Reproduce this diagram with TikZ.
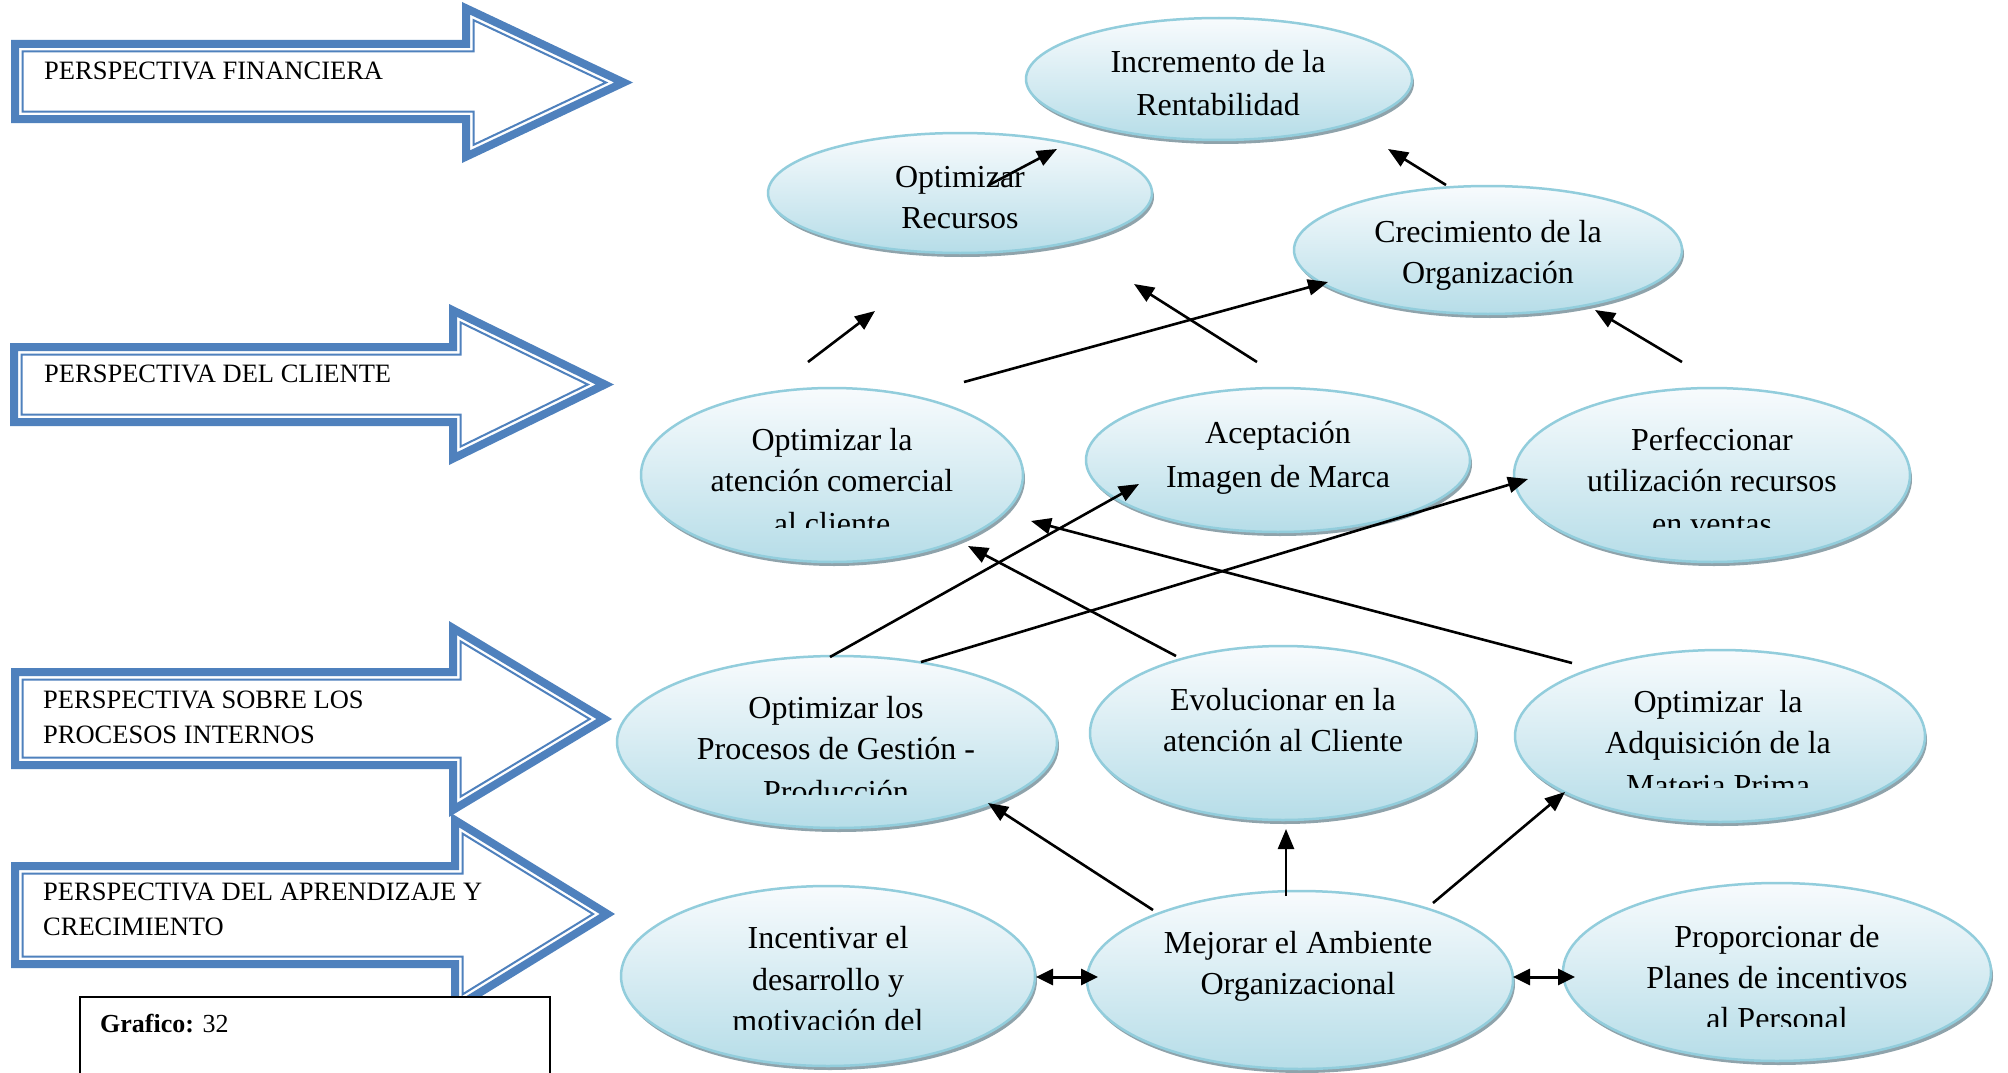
\documentclass[tikz,border=0pt]{standalone}
\usepackage{fontspec}
\setmainfont{Liberation Serif}
\usetikzlibrary{shapes.geometric,shadows,arrows.meta}
\definecolor{arrowblue}{HTML}{4F81BD}
\definecolor{ovalborder}{HTML}{92CDDC}
\definecolor{ovaltop}{HTML}{F8FBFD}
\definecolor{ovalbot}{HTML}{B6DDE8}
\definecolor{ovalshadow}{HTML}{8FA3AB}
% #1 L, #2 T, #3 B, #4 neck x, #5 head top, #6 head bottom, #7 tip x, #8 inset, #9 style
\newcommand\arrowshape[9]{%
  \pgfmathsetmacro\arrM{(#5+#6)/2}%
  \pgfmathsetmacro\arrS{(\arrM-#5)/(#7-#4)}%
  \pgfmathsetmacro\arrQ{#8*sqrt(1+\arrS*\arrS)}%
  \draw[#9] (#1+#8,#2+#8) -- (#4+#8,#2+#8) -- (#4+#8,#5+#8*\arrS+\arrQ)
    -- (#7-\arrQ/\arrS,\arrM) -- (#4+#8,#6-#8*\arrS-\arrQ) -- (#4+#8,#3-#8)
    -- (#1+#8,#3-#8) -- cycle;}
\newcommand\perarrow[7]{%
  \arrowshape{#1}{#2}{#3}{#4}{#5}{#6}{#7}{4}{draw=arrowblue,line width=8pt,fill=white,miter limit=20}%
  \arrowshape{#1}{#2}{#3}{#4}{#5}{#6}{#7}{11.5}{draw=arrowblue,line width=2pt,miter limit=20}}
\tikzset{
  ovalbox/.style={ellipse, draw=ovalborder, line width=2.5pt, top color=ovaltop, bottom color=ovalbot,
    inner sep=0pt, general shadow={fill=ovalshadow, shadow xshift=2pt, shadow yshift=-4pt}},
  etx/.style={anchor=base, inner sep=0pt, font=\fontsize{32}{38}\selectfont},
  ptx/.style={anchor=base west, inner sep=0pt, font=\fontsize{26.5}{30}\selectfont},
  conn/.style={line width=2.6pt, -{Triangle[length=20pt,width=16pt]}},
  dconn/.style={line width=3pt, {Triangle[length=17pt,width=16pt]}-{Triangle[length=17pt,width=16pt]}},
}
\begin{document}
\begin{tikzpicture}[x=1pt,y=-1pt]
\useasboundingbox (0,0) rectangle (2008,1073);
\fill[white] (0,0) rectangle (2008,1073);

% perspective block arrows
\perarrow{11}{40}{123}{462}{2}{163}{633}
\perarrow{10}{343}{426}{449}{304}{465}{614}
\perarrow{11}{668}{769}{449}{621}{817}{612}
\perarrow{11}{862}{968}{451}{813}{1015}{615}
\node[ptx] (p1) at (44,79) {PERSPECTIVA FINANCIERA};
\node[ptx] (p2) at (44,382) {PERSPECTIVA DEL CLIENTE};
\node[ptx] (p3a) at (43,708) {PERSPECTIVA SOBRE LOS};
\node[ptx] (p3b) at (43,743) {PROCESOS INTERNOS};
\node[ptx] (p4a) at (43,900) {PERSPECTIVA DEL APRENDIZAJE Y};
\node[ptx] (p4b) at (43,935) {CRECIMIENTO};

% caption box
\node[draw, line width=1.5pt, fill=white, anchor=north west, minimum width=470pt, minimum height=100pt, inner sep=0pt] (grafbox) at (79,996) {};
\node[anchor=base west, inner sep=0pt, font=\fontsize{26}{30}\selectfont] (graftxt) at (100,1032) {\textbf{Grafico:} 32};

% ellipses
\node[ovalbox, minimum width=386pt, minimum height=122pt] (e1) at (1219,79) {};
\node[ovalbox, minimum width=384pt, minimum height=120pt] (e2) at (960,193) {};
\node[ovalbox, minimum width=388pt, minimum height=128pt] (e3) at (1488,250) {};
\node[ovalbox, minimum width=382pt, minimum height=174pt] (e4) at (832,475) {};
\node[ovalbox, minimum width=384pt, minimum height=144pt] (e5) at (1278,460) {};
\node[ovalbox, minimum width=396pt, minimum height=174pt] (e6) at (1712,475) {};
\node[ovalbox, minimum width=440pt, minimum height=172pt] (e7) at (837,742) {};
\node[ovalbox, minimum width=386pt, minimum height=174pt] (e8) at (1283,733) {};
\node[ovalbox, minimum width=410pt, minimum height=172pt] (e9) at (1720,736) {};
\node[ovalbox, minimum width=414pt, minimum height=180pt] (e10) at (828,976) {};
\node[ovalbox, minimum width=426pt, minimum height=178pt] (e11) at (1300,980) {};
\node[ovalbox, minimum width=428pt, minimum height=178pt] (e12) at (1777,972) {};

% ellipse texts
\node[etx] (t1a) at (1218,73) {Incremento de la};
\node[etx] (t1b) at (1218,115) {Rentabilidad};
\node[etx] (t2a) at (960,187) {Optimizar};
\node[etx] (t2b) at (960,228) {Recursos};
\node[etx] (t3a) at (1488,242) {Crecimiento de la};
\node[etx] (t3b) at (1488,283) {Organización};
\begin{scope}
  \clip (600,380) rectangle (1060,527);
  \node[etx] (t4a) at (832,450) {Optimizar la};
  \node[etx] (t4b) at (832,491) {atención comercial};
  \node[etx] (t4c) at (832,534) {al cliente};
\end{scope}
\node[etx] (t5a) at (1278,443) {Aceptación};
\node[etx] (t5b) at (1278,487) {Imagen de Marca};
\begin{scope}
  \clip (1500,380) rectangle (1930,527);
  \node[etx] (t6a) at (1712,450) {Perfeccionar};
  \node[etx] (t6b) at (1712,491) {utilización recursos};
  \node[etx] (t6c) at (1712,534) {en ventas};
\end{scope}
\begin{scope}
  \clip (600,640) rectangle (1070,794);
  \node[etx] (t7a) at (836,718) {Optimizar los};
  \node[etx] (t7b) at (836,759) {Procesos de Gestión -};
  \node[etx] (t7c) at (836,802) {Producción};
\end{scope}
\node[etx] (t8a) at (1283,710) {Evolucionar en la};
\node[etx] (t8b) at (1283,751) {atención al Cliente};
\begin{scope}
  \clip (1500,640) rectangle (1940,787);
  \node[etx] (t9a) at (1718,712) {Optimizar\ \ la};
  \node[etx] (t9b) at (1718,753) {Adquisición de la};
  \node[etx] (t9c) at (1718,796) {Materia Prima};
\end{scope}
\begin{scope}
  \clip (600,880) rectangle (1050,1029);
  \node[etx] (t10a) at (828,948) {Incentivar el};
  \node[etx] (t10b) at (828,990) {desarrollo y};
  \node[etx] (t10c) at (828,1031) {motivación del};
\end{scope}
\node[etx] (t11a) at (1298,953) {Mejorar el Ambiente};
\node[etx] (t11b) at (1298,994) {Organizacional};
\begin{scope}
  \clip (1550,880) rectangle (2008,1026);
  \node[etx] (t12a) at (1777,947) {Proporcionar de};
  \node[etx] (t12b) at (1777,988) {Planes de incentivos};
  \node[etx] (t12c) at (1777,1029) {al Personal};
\end{scope}

% connector end points
\coordinate (c1s) at (808,362);   \coordinate (c1e) at (875,311);
\coordinate (c2s) at (989,185);   \coordinate (c2e) at (1057,149);
\coordinate (c3s) at (1446,185);  \coordinate (c3e) at (1388,149);
\coordinate (c4s) at (964,382);   \coordinate (c4e) at (1328,282);
\coordinate (c5s) at (1257,362);  \coordinate (c5e) at (1134,284);
\coordinate (c6s) at (1682,362);  \coordinate (c6e) at (1595,310);
\coordinate (c7s) at (830,657);   \coordinate (c7e) at (1139,484);
\coordinate (c8s) at (921,662);   \coordinate (c8e) at (1528,479);
\coordinate (c9s) at (1176,656);  \coordinate (c9e) at (968,546);
\coordinate (c10s) at (1572,663); \coordinate (c10e) at (1031,521);
\coordinate (c11s) at (1153,910); \coordinate (c11e) at (988,803);
\coordinate (c12s) at (1286,896); \coordinate (c12e) at (1286,829);
\coordinate (c13s) at (1433,903); \coordinate (c13e) at (1565,792);
\coordinate (c14s) at (1036,977); \coordinate (c14e) at (1098,977);
\coordinate (c15s) at (1513,977); \coordinate (c15e) at (1575,977);

\foreach \i in {1,...,13} {\draw[conn] (c\i s) -- (c\i e);}
\draw[dconn] (c14s) -- (c14e);
\draw[dconn] (c15s) -- (c15e);
\end{tikzpicture}
\end{document}
